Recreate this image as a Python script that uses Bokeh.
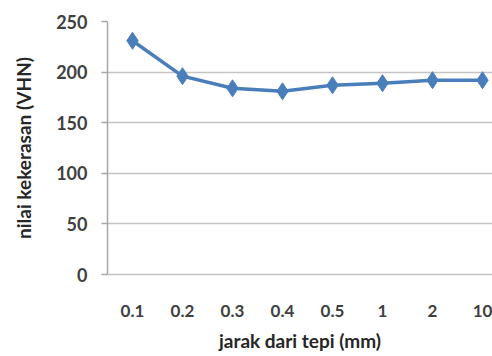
from bokeh.plotting import figure
from bokeh.models import Range1d, ColumnDataSource, FixedTicker
from bokeh.embed import file_html
from bokeh.resources import INLINE

categories = ["0.1", "0.2", "0.3", "0.4", "0.5", "1", "2", "10"]
hardness = [231, 196, 184, 181, 187, 189, 192, 192]
y_ticks = [0, 50, 100, 150, 200, 250]
x_title = "jarak dari tepi (mm)"
y_title = "nilai kekerasan (VHN)"

# category slots (centre of each slot) on a numeric axis
xpos = [i + 0.5 for i in range(len(categories))]
src = ColumnDataSource(dict(x=xpos, y=hardness))

p = figure(width=492, height=356, output_backend="svg", toolbar_location=None,
           x_range=Range1d(0, 7.7), y_range=Range1d(0, 250),
           min_border_left=107, min_border_right=0, min_border_top=21, min_border_bottom=82)
p.outline_line_color = None
p.background_fill_color = "white"
p.border_fill_color = "white"

p.line("x", "y", source=src, line_color="#4a7ebb", line_width=3.5)
p.scatter("x", "y", source=src, marker="diamond", size=17, fill_color="#4a7ebb",
          line_color="#4a7ebb")

p.yaxis.ticker = y_ticks
p.ygrid.grid_line_color = "#c4c4c4"
p.ygrid.grid_line_width = 1.5
p.xgrid.grid_line_color = None

p.xaxis.ticker = FixedTicker(ticks=xpos)
p.xaxis.major_label_overrides = {x: c for x, c in zip(xpos, categories)}

font = "Lato"
p.yaxis.axis_line_color = "#a6a6a6"
p.yaxis.axis_line_width = 1.5
p.yaxis.major_tick_line_color = "#a6a6a6"
p.yaxis.major_tick_line_width = 1.5
p.yaxis.major_tick_out = 6
p.yaxis.major_tick_in = 0
p.yaxis.minor_tick_line_color = None
p.yaxis.major_label_standoff = 14
p.yaxis.major_label_text_font = font
p.yaxis.major_label_text_font_style = "bold"
p.yaxis.major_label_text_font_size = "18px"
p.yaxis.major_label_text_color = "#404040"
p.yaxis.axis_label = y_title
p.yaxis.axis_label_text_font = font
p.yaxis.axis_label_text_font_style = "bold"
p.yaxis.axis_label_text_font_size = "19px"
p.yaxis.axis_label_text_color = "#262626"
p.yaxis.axis_label_standoff = 18

p.xaxis.axis_line_color = "#c4c4c4"
p.xaxis.axis_line_width = 1.5
p.xaxis.major_tick_line_color = None
p.xaxis.minor_tick_line_color = None
p.xaxis.major_tick_out = 0
p.xaxis.major_tick_in = 0
p.xaxis.major_label_standoff = 30
p.xaxis.major_label_text_font = font
p.xaxis.major_label_text_font_style = "bold"
p.xaxis.major_label_text_font_size = "17px"
p.xaxis.major_label_text_color = "#404040"
p.xaxis.axis_label = x_title
p.xaxis.axis_label_text_font = font
p.xaxis.axis_label_text_font_style = "bold"
p.xaxis.axis_label_text_font_size = "19px"
p.xaxis.axis_label_text_color = "#262626"
p.xaxis.axis_label_standoff = 9

open("out.html", "w").write(file_html(p, INLINE))
